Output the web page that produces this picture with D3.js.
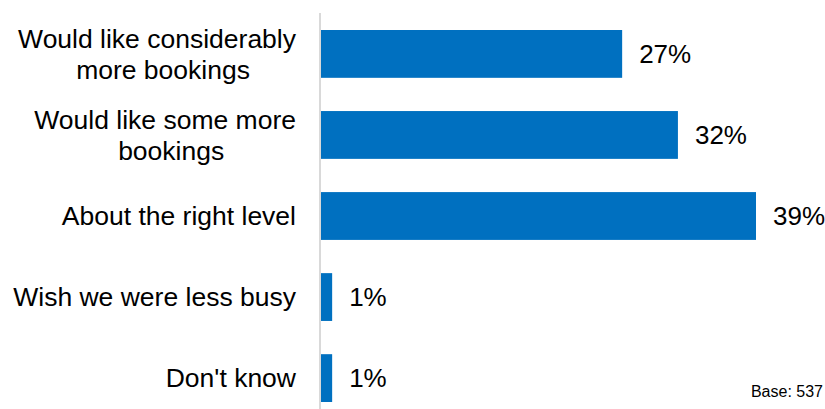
<!DOCTYPE html>
<html lang="en">
<head>
  <meta charset="UTF-8" />
  <title>Bookings</title>
  <script src="https://d3js.org/d3.v7.min.js"></script>
  <style>
    body { margin: 0; background: #fff; }
    svg { display: block; font-family: Arial, "Liberation Sans", sans-serif; }
  </style>
</head>
<body>
  <svg id="chart" width="825" height="409"></svg>
  <script>
    const categories = [
      ["Would like considerably", "more bookings"],
      ["Would like some more", "bookings"],
      ["About the right level"],
      ["Wish we were less busy"],
      ["Don't know"]
    ];
    const values = [27, 32, 39, 1, 1];
    const baseNote = "Base: 537";

    const svg = d3.select("#chart");
    const keys = categories.map(c => c.join(" "));

    const x = d3.scaleLinear().domain([0, 39]).range([321, 756]);
    const y = d3.scaleBand().domain(keys).range([30, 402]).paddingInner(0.41).paddingOuter(0);

    // axis line
    svg.append("line")
      .attr("x1", 320).attr("x2", 320)
      .attr("y1", 13).attr("y2", 409)
      .attr("stroke", "#d9d9d9")
      .attr("stroke-width", 2);

    // bars
    svg.selectAll("rect.bar")
      .data(values)
      .join("rect")
      .attr("class", "bar")
      .attr("x", x(0))
      .attr("y", (d, i) => y(keys[i]))
      .attr("width", d => x(d) - x(0))
      .attr("height", y.bandwidth())
      .attr("fill", "#0070c0");

    // value labels
    svg.selectAll("text.val")
      .data(values)
      .join("text")
      .attr("class", "val")
      .attr("x", d => x(d) + 17)
      .attr("y", (d, i) => y(keys[i]) + y.bandwidth() / 2)
      .attr("dy", "0.35em")
      .style("font-size", "26px")
      .attr("fill", "#000")
      .text(d => d + "%");

    // category labels: wrapped lines centred on the widest line, block right-aligned
    const lineH = 31;
    const labelRight = 296;
    categories.forEach((lines, i) => {
      const cy = y(keys[i]) + y.bandwidth() / 2;
      const g = svg.append("g");
      const ts = lines.map((ln, j) => g.append("text")
        .attr("y", cy + (j - (lines.length - 1) / 2) * lineH)
        .attr("dy", "0.35em")
        .style("font-size", "26.5px")
        .attr("fill", "#000")
        .text(ln));
      const w0 = ts[0].node().getComputedTextLength();
      ts.forEach((t, j) => {
        if (j === 0) t.attr("x", labelRight).attr("text-anchor", "end");
        else t.attr("x", labelRight - w0 / 2 + 6).attr("text-anchor", "middle");
      });
    });

    svg.append("text")
      .attr("x", 823)
      .attr("y", 397)
      .attr("text-anchor", "end")
      .style("font-size", "16px")
      .attr("fill", "#000")
      .text(baseNote);
  </script>
</body>
</html>
